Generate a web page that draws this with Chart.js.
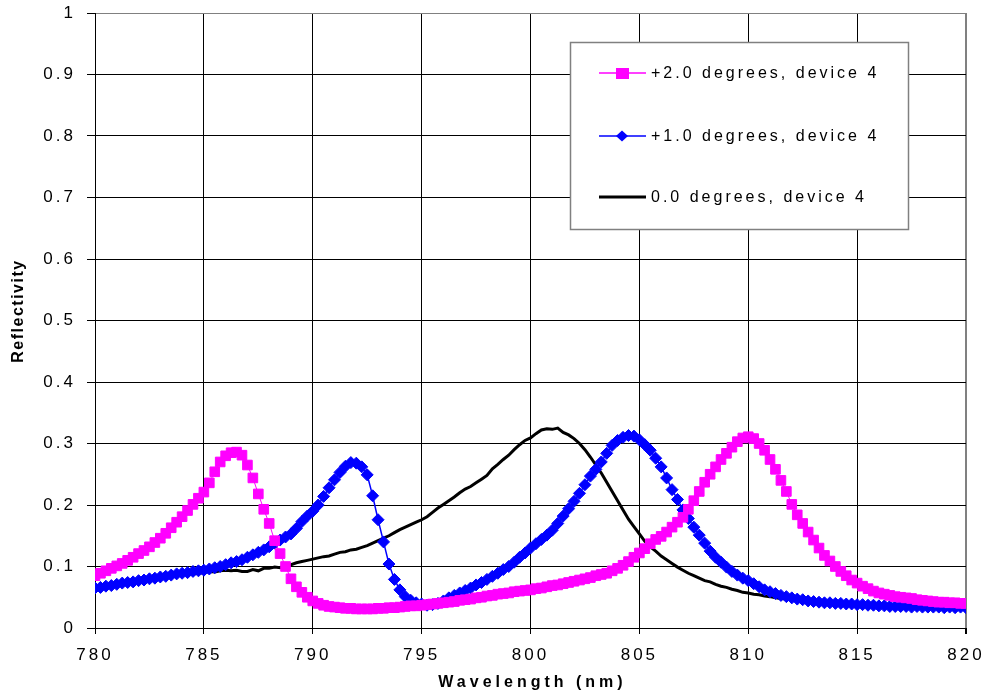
<!DOCTYPE html>
<html>
<head>
<meta charset="utf-8">
<script src="https://cdn.jsdelivr.net/npm/chart.js@4"></script>
<style>
html, body { margin: 0; padding: 0; background: #fff; }
</style>
</head>
<body>
<canvas id="reflChart" width="988" height="698"></canvas>
<script>
// Sampling grid of the measurement (nm)
const startNm = 780;
const stepNm = 0.25;

// Reflectivity, one value every 0.25 nm from 780 to 820
const plus2deg = [
  0.085,0.089,0.093,0.097, 0.101,0.105,0.110,0.115, 0.121,0.126,0.132,0.139, 0.146,0.154,0.163,0.172, 0.181,0.191,0.201,0.211,
  0.221,0.236,0.254,0.270, 0.280,0.285,0.286,0.281, 0.265,0.244,0.218,0.193, 0.170,0.142,0.121,0.100, 0.080,0.067,0.058,0.050,
  0.044,0.040,0.037,0.035, 0.034,0.033,0.032,0.032, 0.031,0.031,0.031,0.031, 0.032,0.032,0.033,0.033, 0.034,0.035,0.036,0.036,
  0.037,0.038,0.039,0.040, 0.041,0.042,0.043,0.045, 0.046,0.047,0.049,0.050, 0.052,0.053,0.055,0.056, 0.057,0.059,0.060,0.061,
  0.062,0.064,0.065,0.067, 0.069,0.070,0.072,0.074, 0.076,0.078,0.080,0.082, 0.085,0.087,0.089,0.093, 0.097,0.102,0.108,0.115,
  0.122,0.129,0.137,0.144, 0.149,0.156,0.164,0.172, 0.180,0.193,0.207,0.222, 0.237,0.250,0.262,0.274, 0.284,0.294,0.303,0.309,
  0.311,0.308,0.300,0.289, 0.274,0.258,0.240,0.222, 0.201,0.184,0.170,0.156, 0.143,0.130,0.118,0.109, 0.100,0.092,0.085,0.078,
  0.073,0.068,0.064,0.060, 0.057,0.055,0.053,0.051, 0.050,0.049,0.048,0.046, 0.045,0.044,0.043,0.042, 0.042,0.041,0.041,0.040,
  0.040
];
const plus1deg = [
  0.065,0.066,0.068,0.069, 0.071,0.073,0.074,0.075, 0.077,0.078,0.080,0.081, 0.083,0.084,0.086,0.088, 0.089,0.090,0.092,0.093,
  0.094,0.096,0.098,0.100, 0.103,0.106,0.108,0.111, 0.115,0.119,0.123,0.127, 0.132,0.138,0.143,0.148, 0.153,0.162,0.173,0.182,
  0.190,0.200,0.214,0.228, 0.241,0.253,0.263,0.269, 0.268,0.262,0.249,0.215, 0.176,0.140,0.104,0.079, 0.062,0.051,0.045,0.041,
  0.039,0.037,0.038,0.040, 0.044,0.049,0.053,0.057, 0.061,0.065,0.070,0.074, 0.079,0.084,0.089,0.095, 0.100,0.107,0.115,0.122,
  0.130,0.137,0.144,0.151, 0.159,0.170,0.182,0.194, 0.206,0.219,0.233,0.247, 0.258,0.270,0.284,0.297, 0.305,0.310,0.313,0.312,
  0.306,0.298,0.289,0.276, 0.262,0.244,0.225,0.209, 0.192,0.178,0.164,0.151, 0.138,0.125,0.115,0.107, 0.099,0.092,0.086,0.081,
  0.077,0.072,0.067,0.062, 0.059,0.056,0.053,0.051, 0.049,0.047,0.046,0.044, 0.043,0.042,0.041,0.041, 0.040,0.040,0.039,0.039,
  0.038,0.038,0.037,0.037, 0.036,0.036,0.035,0.035, 0.035,0.035,0.034,0.035, 0.034,0.034,0.034,0.034, 0.033,0.034,0.033,0.034,
  0.033
];
const zeroDeg = [
  0.066,0.068,0.069,0.071, 0.072,0.074,0.075,0.076, 0.078,0.079,0.080,0.081, 0.083,0.084,0.085,0.086, 0.087,0.088,0.088,0.089,
  0.090,0.092,0.091,0.093, 0.094,0.093,0.094,0.092, 0.092,0.095,0.093,0.097, 0.097,0.099,0.098,0.102, 0.103,0.106,0.108,0.110,
  0.112,0.114,0.116,0.117, 0.120,0.123,0.124,0.127, 0.128,0.131,0.134,0.138, 0.142,0.146,0.150,0.155, 0.160,0.164,0.168,0.172,
  0.176,0.181,0.188,0.195, 0.201,0.207,0.213,0.220, 0.226,0.230,0.236,0.242, 0.248,0.259,0.266,0.274, 0.281,0.290,0.298,0.305,
  0.309,0.316,0.322,0.324, 0.323,0.325,0.318,0.314, 0.308,0.300,0.290,0.278, 0.265,0.252,0.237,0.222, 0.207,0.192,0.177,0.165,
  0.153,0.141,0.132,0.125, 0.117,0.111,0.105,0.099, 0.094,0.089,0.085,0.081, 0.077,0.075,0.071,0.068, 0.066,0.063,0.061,0.058,
  0.057,0.055,0.054,0.052, 0.051,0.049,0.048,0.047, 0.046,0.045,0.044,0.043, 0.042,0.042,0.041,0.040, 0.040,0.039,0.039,0.038,
  0.038,0.037,0.037,0.037, 0.036,0.036,0.036,0.035, 0.035,0.035,0.035,0.035, 0.034,0.034,0.034,0.034, 0.034,0.034,0.034,0.034,
  0.034
];

const seriesLabels = ['+2.0 degrees, device 4', '+1.0 degrees, device 4', '0.0 degrees, device 4'];
const xTitle = 'Wavelength (nm)';
const yTitle = 'Reflectivity';

const FONT = "'Liberation Sans', Arial, sans-serif";

function toPoints(values) {
    return values.map((v, i) => ({ x: startNm + i * stepNm, y: v }));
}

// Axis titles, letter spacing and the boxed legend
const overlayPlugin = {
    id: 'overlay',
    beforeUpdate(chart) { chart.ctx.letterSpacing = '3px'; },
    beforeDraw(chart) { chart.ctx.letterSpacing = '3px'; },
    afterDraw(chart) {
        const c = chart.ctx;
        const area = chart.chartArea;
        c.save();
        c.fillStyle = '#000';
        c.textBaseline = 'middle';

        // x title
        c.font = 'bold 16px ' + FONT;
        c.letterSpacing = '4px';
        c.textAlign = 'center';
        c.fillText(xTitle, (area.left + area.right) / 2 + 2, 683);

        // y title
        c.letterSpacing = '1.5px';
        c.save();
        c.translate(19, 311);
        c.rotate(-Math.PI / 2);
        c.fillText(yTitle, 0, 0);
        c.restore();

        // legend box
        const bx = 570, by = 42, bw = 338, bh = 187;
        c.fillStyle = '#fff';
        c.fillRect(bx, by, bw, bh);
        c.strokeStyle = '#808080';
        c.lineWidth = 1.5;
        c.strokeRect(bx + 0.5, by + 0.5, bw, bh);

        const rows = [73, 136, 197];
        const colors = ['#ff00ff', '#0000ff', '#000000'];
        c.font = '16px ' + FONT;
        c.letterSpacing = '3px';
        c.textAlign = 'left';
        rows.forEach((y, i) => {
            c.strokeStyle = colors[i];
            c.fillStyle = colors[i];
            c.lineWidth = i === 2 ? 3 : 1.5;
            c.beginPath();
            c.moveTo(599, y);
            c.lineTo(646, y);
            c.stroke();
            if (i === 0) {
                c.fillRect(616, y - 5, 13, 11);
            } else if (i === 1) {
                c.beginPath();
                c.moveTo(616, y);
                c.lineTo(622, y - 5.5);
                c.lineTo(628, y);
                c.lineTo(622, y + 5.5);
                c.closePath();
                c.fill();
            }
            c.fillStyle = '#000';
            c.fillText(seriesLabels[i], 651, y + 1);
        });
        c.restore();
    }
};

const ctx = document.getElementById('reflChart').getContext('2d');

// first dataset is drawn on top: pink over blue over black
const reflChart = new Chart(ctx, {
    type: 'line',
    data: {
        datasets: [
            {
                label: seriesLabels[0],
                data: toPoints(plus2deg),
                borderColor: '#ff00ff',
                backgroundColor: '#ff00ff',
                borderWidth: 1,
                pointStyle: 'rect',
                pointRadius: 6.8,
                pointBorderWidth: 1,
                pointBorderColor: '#ff00ff',
                pointBackgroundColor: '#ff00ff',
                tension: 0
            },
            {
                label: seriesLabels[1],
                data: toPoints(plus1deg),
                borderColor: '#0000ff',
                backgroundColor: '#0000ff',
                borderWidth: 1.5,
                pointStyle: 'rectRot',
                pointRadius: 6,
                pointBorderWidth: 1,
                pointBorderColor: '#0000ff',
                pointBackgroundColor: '#0000ff',
                tension: 0
            },
            {
                label: seriesLabels[2],
                data: toPoints(zeroDeg),
                borderColor: '#000000',
                borderWidth: 3,
                pointRadius: 0,
                tension: 0
            }
        ]
    },
    options: {
        responsive: false,
        animation: false,
        layout: { padding: { top: 13, right: 22, left: 0, bottom: 0 } },
        plugins: {
            legend: { display: false },
            tooltip: { enabled: false }
        },
        scales: {
            x: {
                type: 'linear',
                min: 780,
                max: 820,
                ticks: {
                    stepSize: 5,
                    color: '#000',
                    font: { size: 17, family: FONT },
                    padding: 11,
                    maxRotation: 0
                },
                grid: {
                    color: (c) => (c.tick && c.tick.value === 820 ? '#808080' : '#000'),
                    lineWidth: (c) => (c.tick && c.tick.value === 820 ? 2 : 1),
                    tickLength: 6,
                    tickColor: '#000'
                },
                border: { color: '#000', width: 1 },
                afterFit: (scale) => {
                    scale.height = 70;
                    scale.paddingLeft = 0;
                    scale.paddingRight = 0;
                }
            },
            y: {
                min: 0,
                max: 1,
                ticks: {
                    stepSize: 0.1,
                    color: '#000',
                    font: { size: 17, family: FONT },
                    padding: 11,
                    callback: (v) => (v === 0 ? '0' : v === 1 ? '1' : v.toFixed(1))
                },
                grid: {
                    color: (c) => (c.tick && c.tick.value === 1 ? '#808080' : '#000'),
                    lineWidth: 1,
                    tickLength: 8,
                    tickColor: '#000'
                },
                border: { color: '#000', width: 1 },
                afterFit: (scale) => {
                    scale.width = 95;
                    scale.paddingTop = 0;
                    scale.paddingBottom = 0;
                }
            }
        }
    },
    plugins: [overlayPlugin]
});
</script>
</body>
</html>
